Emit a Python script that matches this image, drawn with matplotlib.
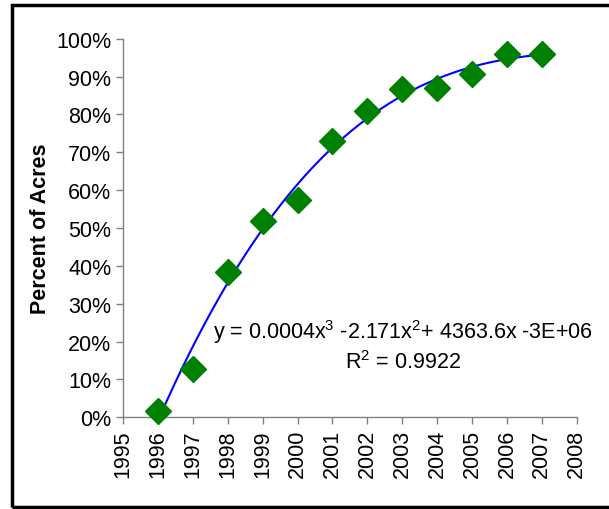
import numpy as np
import matplotlib
matplotlib.use("Agg")
import matplotlib.pyplot as plt
from matplotlib.patches import Rectangle
from matplotlib.ticker import PercentFormatter

# values (fraction of acres)
years = [1996, 1997, 1998, 1999, 2000, 2001, 2002, 2003, 2004, 2005, 2006, 2007]
pct_acres = [0.017, 0.127, 0.385, 0.518, 0.574, 0.729, 0.808, 0.866, 0.869, 0.908, 0.960, 0.960]
x_ticks = list(range(1995, 2009))
y_ticks = [i / 10 for i in range(11)]

eq_text = "y = 0.0004x$^{3}$ -2.171x$^{2}$+ 4363.6x -3E+06"
r2_text = "R$^{2}$ = 0.9922"

plt.rcParams['font.family'] = ['Liberation Sans', 'DejaVu Sans']
plt.rcParams['mathtext.fontset'] = 'custom'
plt.rcParams['mathtext.rm'] = 'Liberation Sans'
plt.rcParams['mathtext.it'] = 'Liberation Sans'

fs = 15.5

fig = plt.figure(figsize=(6.09, 5.10), dpi=100)
ax = fig.add_axes([0.202, 0.180, 0.745, 0.742])

# cubic trend line, fitted like the spreadsheet did
xs = np.array(years, dtype=float)
coef = np.polyfit(xs - 1996, pct_acres, 3)
xx = np.linspace(xs.min(), xs.max(), 200)
ax.plot(xx, np.polyval(coef, xx - 1996), color='#0000ff', lw=1.5, zorder=2)

ax.plot(years, pct_acres, linestyle='none', marker='D', ms=13,
        color='#008000', zorder=3, clip_on=False)

ax.set_xlim(1995, 2008)
ax.set_ylim(0, 1)
ax.set_xticks(x_ticks)
ax.set_xticklabels([str(v) for v in x_ticks], rotation=90)
ax.set_yticks(y_ticks)
ax.yaxis.set_major_formatter(PercentFormatter(1.0, decimals=0))
ax.tick_params(colors='#808080', labelcolor='black', labelsize=fs,
               length=5, width=1, direction='out')
for side in ['top', 'right']:
    ax.spines[side].set_visible(False)
for side in ['left', 'bottom']:
    ax.spines[side].set_color('#808080')
    ax.spines[side].set_linewidth(1)

ax.set_ylabel("Percent of Acres", fontsize=fs, fontweight='bold')
ax.yaxis.set_label_coords(-0.158, 0.5)

ax.text(0.618, 0.228, eq_text, transform=ax.transAxes, fontsize=fs,
        ha='center', va='center')
ax.text(0.617, 0.148, r2_text, transform=ax.transAxes, fontsize=fs,
        ha='center', va='center')

# frame around the whole chart
fig.patches.append(Rectangle((0.0197, 0.0039), 1.0, 0.984, transform=fig.transFigure,
                             fill=False, edgecolor='black', linewidth=2.5))

fig.savefig("out.png", dpi=100)
